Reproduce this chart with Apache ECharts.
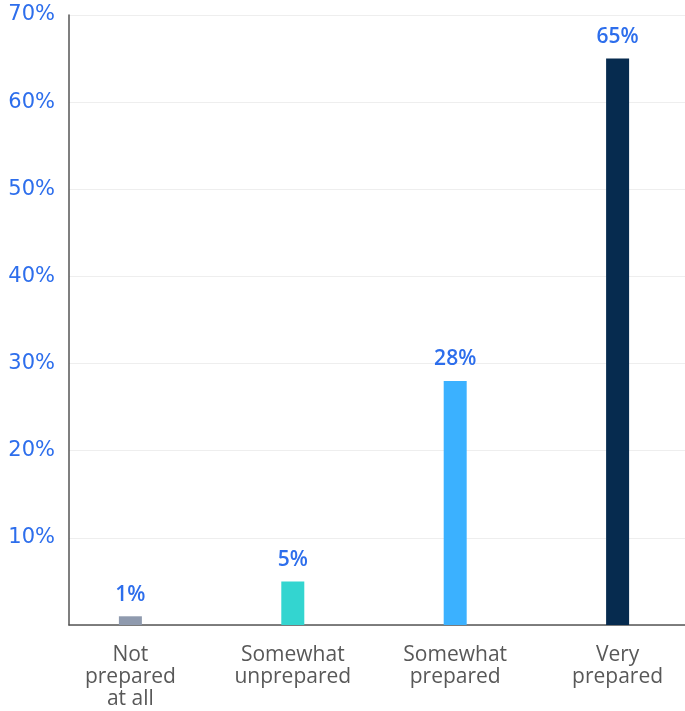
<!DOCTYPE html>
<html>
<head>
<meta charset="utf-8">
<script src="https://cdn.jsdelivr.net/npm/echarts@6/dist/echarts.min.js"></script>
<style>
  html, body { margin: 0; padding: 0; background: #ffffff; }
  #chart { width: 685px; height: 711px; }
</style>
</head>
<body>
<div id="chart"></div>
<script>
// Survey: how prepared respondents feel
const categories = ['Not\nprepared\nat all', 'Somewhat\nunprepared', 'Somewhat\nprepared', 'Very\nprepared'];
const shares = [1, 5, 28, 65];
const barColors = ['#8f9aae', '#33d5d0', '#3bb1ff', '#062b4f'];
const yTicks = [0, 10, 20, 30, 40, 50, 60, 70];

const blue = '#2d6eec';

const chart = echarts.init(document.getElementById('chart'), null, { renderer: 'canvas' });

chart.setOption({
  backgroundColor: '#ffffff',
  animation: false,
  grid: { left: 69, right: 0, top: 15, bottom: 86 },
  xAxis: {
    type: 'value',
    min: -0.378,
    max: 3.415,
    splitLine: { show: false },
    axisTick: { show: false },
    axisLine: { show: true, onZero: false, lineStyle: { color: '#555555', width: 1.5 } },
    axisLabel: {
      customValues: categories.map((_, i) => i),
      formatter: v => categories[Math.round(v)],
      color: '#585858',
      fontFamily: 'Open Sans',
      fontSize: 21,
      lineHeight: 22,
      margin: 19
    }
  },
  yAxis: {
    type: 'value',
    min: yTicks[0],
    max: yTicks[yTicks.length - 1],
    interval: yTicks[1] - yTicks[0],
    axisLine: { show: true, onZero: false, lineStyle: { color: '#555555', width: 1.5 } },
    axisTick: { show: false },
    splitLine: { lineStyle: { color: '#eeeeee', width: 1 } },
    axisLabel: {
      showMinLabel: false,
      formatter: '{value}%',
      color: blue,
      fontFamily: 'DejaVu Sans',
      fontSize: 21,
      margin: 14
    }
  },
  series: [{
    type: 'bar',
    barWidth: 23,
    data: shares.map((v, i) => ({ value: [i, v], itemStyle: { color: barColors[i] } })),
    label: {
      show: true,
      position: 'top',
      distance: 11,
      formatter: p => p.value[1] + '%',
      color: blue,
      fontFamily: 'Open Sans',
      fontWeight: 600,
      fontSize: 21
    }
  }]
});
</script>
</body>
</html>
